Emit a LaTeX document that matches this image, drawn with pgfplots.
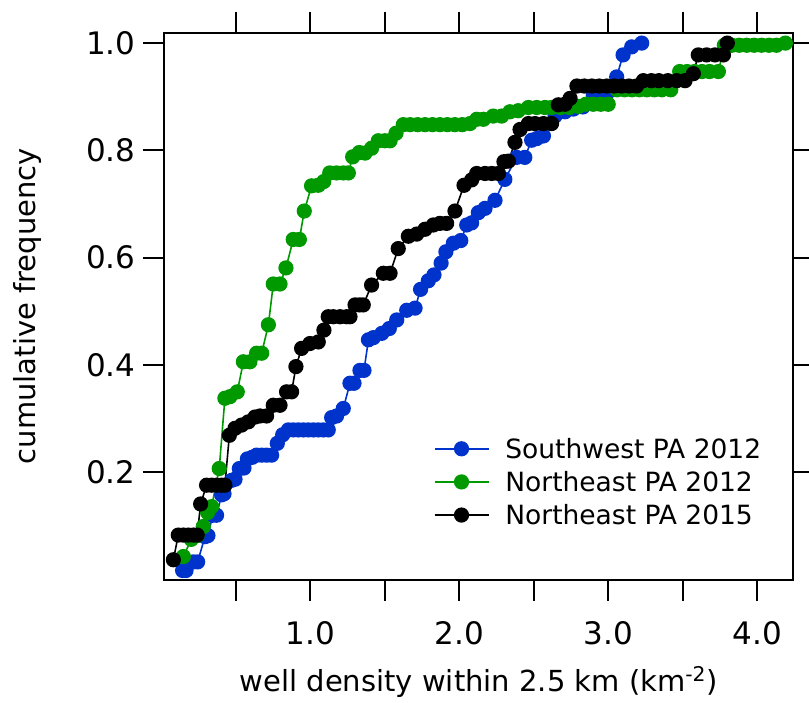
\documentclass[border=0pt]{standalone}
\usepackage{pgfplots}
\pgfplotsset{compat=1.18}
\usepackage{fontspec}
\setmainfont{DejaVu Sans}
\definecolor{swblue}{RGB}{0,51,204}
\definecolor{negreen}{RGB}{0,153,0}

% Cumulative frequency of well density (km^-2) within 2.5 km
\pgfplotstableread{
x y
0.142 0.017
0.165 0.017
0.214 0.033
0.243 0.033
0.292 0.080
0.312 0.082
0.344 0.120
0.370 0.120
0.404 0.158
0.420 0.160
0.471 0.185
0.494 0.187
0.523 0.207
0.554 0.208
0.577 0.225
0.610 0.228
0.639 0.232
0.673 0.232
0.706 0.232
0.740 0.232
0.778 0.254
0.814 0.270
0.852 0.279
0.885 0.279
0.919 0.279
0.953 0.279
0.986 0.279
1.020 0.279
1.053 0.279
1.087 0.279
1.120 0.279
1.143 0.302
1.176 0.305
1.221 0.319
1.266 0.366
1.293 0.366
1.333 0.390
1.360 0.390
1.390 0.447
1.423 0.451
1.480 0.459
1.530 0.468
1.580 0.484
1.647 0.502
1.703 0.506
1.740 0.541
1.792 0.557
1.830 0.568
1.878 0.590
1.910 0.611
1.960 0.627
2.010 0.632
2.050 0.661
2.083 0.665
2.128 0.684
2.173 0.692
2.240 0.707
2.306 0.746
2.385 0.787
2.440 0.787
2.486 0.819
2.520 0.822
2.565 0.827
2.643 0.864
2.710 0.872
2.766 0.877
2.830 0.881
2.900 0.903
2.950 0.903
3.000 0.910
3.057 0.937
3.100 0.978
3.158 0.993
3.225 1.000
}\southwestA

\pgfplotstableread{
x y
0.147 0.043
0.200 0.075
0.240 0.082
0.281 0.099
0.310 0.125
0.337 0.136
0.388 0.207
0.426 0.338
0.460 0.341
0.509 0.350
0.550 0.406
0.594 0.406
0.639 0.422
0.673 0.422
0.718 0.475
0.751 0.551
0.796 0.551
0.836 0.581
0.885 0.634
0.926 0.634
0.959 0.687
1.008 0.734
1.053 0.735
1.090 0.742
1.130 0.758
1.176 0.758
1.221 0.758
1.255 0.758
1.284 0.788
1.328 0.796
1.367 0.795
1.411 0.804
1.456 0.818
1.500 0.818
1.535 0.818
1.575 0.832
1.624 0.848
1.670 0.848
1.720 0.848
1.770 0.848
1.820 0.848
1.870 0.848
1.920 0.848
1.970 0.848
2.020 0.848
2.072 0.850
2.117 0.858
2.162 0.858
2.228 0.864
2.284 0.864
2.340 0.872
2.396 0.874
2.464 0.880
2.520 0.880
2.575 0.880
2.620 0.880
2.680 0.880
2.740 0.880
2.800 0.882
2.850 0.886
2.900 0.886
2.950 0.886
3.000 0.886
3.060 0.913
3.110 0.913
3.160 0.913
3.210 0.913
3.260 0.913
3.310 0.913
3.360 0.913
3.420 0.913
3.480 0.947
3.530 0.947
3.580 0.947
3.630 0.947
3.680 0.947
3.740 0.947
3.780 0.996
3.830 0.996
3.880 0.996
3.930 0.996
3.980 0.996
4.030 0.996
4.080 0.996
4.130 0.996
4.190 1.000
}\northeastA

\pgfplotstableread{
x y
0.080 0.037
0.113 0.083
0.147 0.083
0.180 0.083
0.214 0.083
0.240 0.083
0.263 0.141
0.303 0.176
0.337 0.176
0.370 0.176
0.404 0.176
0.426 0.176
0.456 0.269
0.494 0.282
0.538 0.288
0.583 0.294
0.628 0.303
0.662 0.305
0.706 0.305
0.751 0.325
0.796 0.325
0.840 0.350
0.874 0.350
0.903 0.397
0.941 0.431
0.997 0.440
1.053 0.443
1.091 0.465
1.120 0.490
1.154 0.490
1.200 0.490
1.244 0.490
1.266 0.490
1.300 0.512
1.330 0.512
1.355 0.512
1.411 0.549
1.490 0.571
1.535 0.571
1.590 0.617
1.658 0.640
1.714 0.644
1.770 0.653
1.826 0.661
1.870 0.664
1.915 0.664
1.971 0.687
2.032 0.735
2.083 0.745
2.117 0.757
2.173 0.757
2.218 0.757
2.263 0.757
2.300 0.779
2.330 0.780
2.374 0.815
2.408 0.839
2.464 0.850
2.508 0.850
2.565 0.850
2.620 0.850
2.665 0.885
2.710 0.886
2.744 0.897
2.790 0.920
2.840 0.920
2.890 0.920
2.940 0.920
2.990 0.920
3.040 0.920
3.090 0.920
3.140 0.920
3.190 0.920
3.236 0.930
3.290 0.930
3.340 0.930
3.400 0.930
3.460 0.930
3.516 0.930
3.572 0.943
3.605 0.978
3.661 0.978
3.717 0.978
3.774 0.978
3.800 1.000
}\northeastB

\begin{document}
\begin{tikzpicture}
\begin{axis}[
  at={(0pt,0pt)}, anchor=south west,
  scale only axis, width=629.3pt, height=546.9pt,
  xmin=0.017, xmax=4.243, ymin=0, ymax=1.0194,
  axis line style={line width=2pt},
  every tick/.style={black, line width=2pt},
  tick align=outside,
  major tick length=21pt, minor tick length=21pt,
  xtick={1,2,3,4}, xticklabels={1.0,2.0,3.0,4.0},
  minor xtick={0.5,1.5,2.5,3.5},
  ytick={0.2,0.4,0.6,0.8,1.0}, yticklabels={0.2,0.4,0.6,0.8,1.0},
  tick label style={font=\fontsize{31}{35}\selectfont},
  xticklabel style={yshift=-17pt},
  yticklabel style={xshift=-4pt},
  label style={font=\fontsize{29}{33}\selectfont},
  xlabel={well density within 2.5 km (km\textsuperscript{-2})},
  ylabel={cumulative frequency},
  xlabel style={at={(axis description cs:0.5,-0.2037)}, anchor=base},
  ylabel style={at={(axis description cs:-0.2177,0.5)}, anchor=center},
  legend style={draw=none, fill=none, at={(axis description cs:0.4283,0.263)},
    anchor=north west, font=\fontsize{26.5}{30}\selectfont,
    inner sep=0pt, row sep=7.5pt,
    /tikz/every odd column/.append style={column sep=14pt}},
  legend cell align=left,
  legend image code/.code={\draw[mark repeat=2, mark phase=2, #1]
    plot coordinates {(0pt,0pt) (27pt,0pt) (54pt,0pt)};},
]
\addplot[swblue, line width=1.6pt, mark=*, mark size=6.8pt,
  mark options={solid, fill=swblue, draw=swblue}] table[x=x, y=y] {\southwestA};
\addlegendentry{Southwest PA 2012}
\addplot[negreen, line width=1.6pt, mark=*, mark size=6.8pt,
  mark options={solid, fill=negreen, draw=negreen}] table[x=x, y=y] {\northeastA};
\addlegendentry{Northeast PA 2012}
\addplot[black, line width=1.6pt, mark=*, mark size=6.8pt,
  mark options={solid, fill=black, draw=black}] table[x=x, y=y] {\northeastB};
\addlegendentry{Northeast PA 2015}
\end{axis}
\pgfresetboundingbox
\useasboundingbox (-164pt,-122.4pt) rectangle (645pt,579.6pt);
\end{tikzpicture}
\end{document}
